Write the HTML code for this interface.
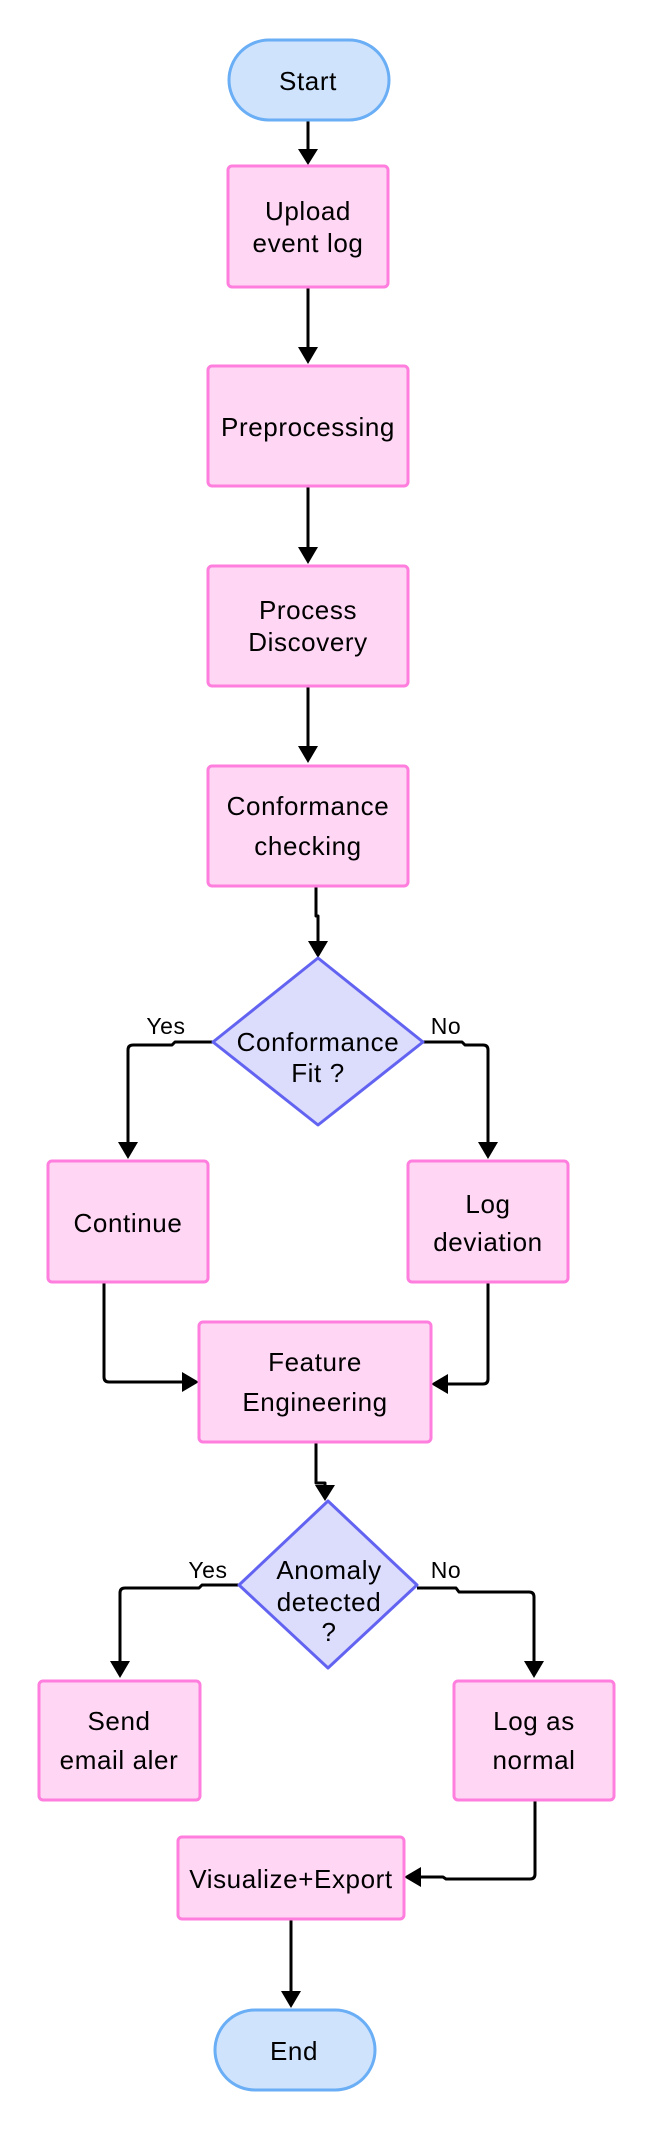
<!DOCTYPE html>
<html><head><meta charset="utf-8"><style>
html,body{margin:0;padding:0;background:#fff;}
svg{display:block;}
text{font-family:"Liberation Sans",sans-serif;font-size:26px;fill:#000;text-anchor:middle;dominant-baseline:central;letter-spacing:0.6px;}
.lbl{font-size:23px;}
.b{fill:#ffd6f4;stroke:#ff7ede;stroke-width:3;}
.t{fill:#cfe3fd;stroke:#6aaef5;stroke-width:3;}
.d{fill:#dcdcfc;stroke:#6363f2;stroke-width:3;stroke-linejoin:round;}
.c{fill:none;stroke:#000;stroke-width:3;stroke-linejoin:round;}
.a{fill:#000;}
</style></head><body>
<svg width="655" height="2133" viewBox="0 0 655 2133" xmlns="http://www.w3.org/2000/svg">
<path class="c" d="M308 120 V150"/><polygon class="a" points="298,149 318,149 308,165"/>
<path class="c" d="M308 287 V348"/><polygon class="a" points="298,347 318,347 308,364"/>
<path class="c" d="M308 486 V548"/><polygon class="a" points="298,547 318,547 308,564"/>
<path class="c" d="M308 686 V747"/><polygon class="a" points="298,746 318,746 308,763"/>
<path class="c" d="M316 886 V916 H318 V942"/><polygon class="a" points="308,941 328,941 318,958"/>
<path class="c" d="M213 1042 H175 L172 1045 H133 Q128 1045 128 1050 V1143"/><polygon class="a" points="118,1142 138,1142 128,1159"/>
<path class="c" d="M423 1042 H462 L465 1045 H483 Q488 1045 488 1050 V1143"/><polygon class="a" points="478,1142 498,1142 488,1159"/>
<path class="c" d="M104 1282 V1377 Q104 1382 109 1382 H183"/><polygon class="a" points="182,1372 182,1392 199,1382"/>
<path class="c" d="M488 1282 V1379 Q488 1384 483 1384 H447"/><polygon class="a" points="448,1374 448,1394 431,1384"/>
<path class="c" d="M316 1442 V1483 H325 V1486"/><polygon class="a" points="315,1485 335,1485 325,1501"/>
<path class="c" d="M239 1585 H202 L199 1588 H125 Q120 1588 120 1593 V1662"/><polygon class="a" points="110,1661 130,1661 120,1678"/>
<path class="c" d="M417 1588 H456 L459 1592 H529 Q534 1592 534 1597 V1662"/><polygon class="a" points="524,1661 544,1661 534,1678"/>
<path class="c" d="M535 1800 V1874 Q535 1879 530 1879 H446 L443 1877 H420"/><polygon class="a" points="421,1867 421,1887 404,1877"/>
<path class="c" d="M291 1919 V1992"/><polygon class="a" points="281,1991 301,1991 291,2008"/>
<rect class="t" x="229" y="40" width="160" height="80" rx="40"/><text x="308" y="81">Start</text>
<rect class="b" x="228" y="166" width="160" height="121" rx="4"/><text x="308" y="211">Upload</text><text x="308" y="243">event log</text>
<rect class="b" x="208" y="366" width="200" height="120" rx="4"/><text x="308" y="427">Preprocessing</text>
<rect class="b" x="208" y="566" width="200" height="120" rx="4"/><text x="308" y="610">Process</text><text x="308" y="642">Discovery</text>
<rect class="b" x="208" y="766" width="200" height="120" rx="4"/><text x="308" y="806">Conformance</text><text x="308" y="846">checking</text>
<polygon class="d" points="318,958 423,1042 318,1125 213,1042"/><text x="318" y="1042">Conformance</text><text x="318" y="1073">Fit ?</text>
<text class="lbl" x="166" y="1026">Yes</text><text class="lbl" x="446" y="1026">No</text>
<rect class="b" x="48" y="1161" width="160" height="121" rx="4"/><text x="128" y="1223">Continue</text>
<rect class="b" x="408" y="1161" width="160" height="121" rx="4"/><text x="488" y="1204">Log</text><text x="488" y="1242">deviation</text>
<rect class="b" x="199" y="1322" width="232" height="120" rx="4"/><text x="315" y="1362">Feature</text><text x="315" y="1402">Engineering</text>
<polygon class="d" points="328,1501 417,1585 328,1668 239,1585"/><text x="329" y="1570">Anomaly</text><text x="329" y="1602">detected</text><text x="329" y="1632">?</text>
<text class="lbl" x="208" y="1570">Yes</text><text class="lbl" x="446" y="1570">No</text>
<rect class="b" x="39" y="1681" width="161" height="119" rx="4"/><text x="119" y="1721">Send</text><text x="119" y="1760">email aler</text>
<rect class="b" x="454" y="1681" width="160" height="119" rx="4"/><text x="534" y="1721">Log as</text><text x="534" y="1760">normal</text>
<rect class="b" x="178" y="1837" width="226" height="82" rx="4"/><text x="291" y="1879">Visualize+Export</text>
<rect class="t" x="215" y="2010" width="160" height="80" rx="40"/><text x="294" y="2051">End</text>
</svg>
</body></html>
